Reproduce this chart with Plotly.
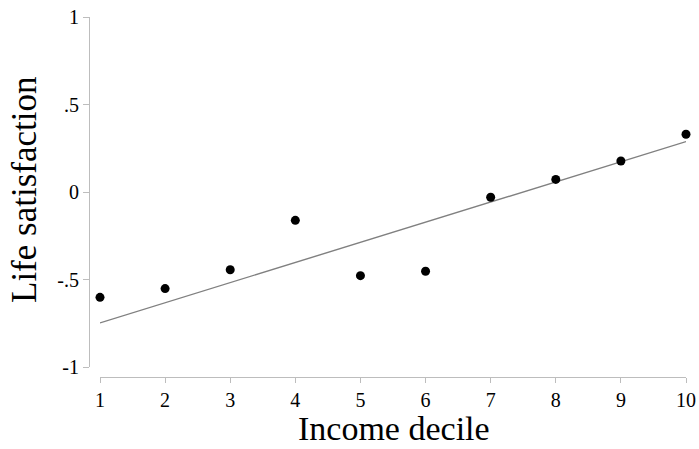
import plotly.graph_objects as go

deciles = [1, 2, 3, 4, 5, 6, 7, 8, 9, 10]
life_sat = [-0.602, -0.552, -0.444, -0.162, -0.478, -0.453, -0.030, 0.072, 0.177, 0.330]
fit_x = [1, 10]
fit_y = [-0.748, 0.288]
x_ticks = [1, 2, 3, 4, 5, 6, 7, 8, 9, 10]
y_ticks = [-1, -0.5, 0, 0.5, 1]
y_tick_labels = ["-1", "-.5", "0", ".5", "1"]

W, H = 699, 449
font_family = "Liberation Serif, Times New Roman, serif"

fig = go.Figure()
fig.add_trace(go.Scatter(x=fit_x, y=fit_y, mode="lines",
                         line=dict(color="#808080", width=1.4),
                         cliponaxis=False, hoverinfo="skip"))
fig.add_trace(go.Scatter(x=deciles, y=life_sat, mode="markers",
                         marker=dict(color="black", size=9),
                         cliponaxis=False))

fig.update_layout(
    width=W, height=H,
    margin=dict(l=0, r=0, t=0, b=0),
    paper_bgcolor="white", plot_bgcolor="white",
    showlegend=False,
    font=dict(family=font_family, color="black"),
    xaxis=dict(
        domain=[100 / W, 686 / W], range=[1, 10],
        anchor="free", position=(H - 377) / H,
        tickvals=x_ticks, ticktext=[str(v) for v in x_ticks],
        showline=True, linecolor="#bdbdbd", linewidth=1.2,
        ticks="outside", ticklen=5, tickcolor="#bdbdbd", tickwidth=1.2,
        showgrid=False, zeroline=False,
        tickfont=dict(size=20, family=font_family, color="black"),
        automargin=False,
    ),
    yaxis=dict(
        domain=[(H - 367) / H, (H - 17) / H], range=[-1, 1],
        anchor="free", position=89 / W,
        tickvals=y_ticks, ticktext=y_tick_labels,
        showline=True, linecolor="#bdbdbd", linewidth=1.2,
        ticks="outside", ticklen=6, tickcolor="#bdbdbd", tickwidth=1.2,
        showgrid=False, zeroline=False,
        tickfont=dict(size=20, family=font_family, color="black"),
        automargin=False,
    ),
    annotations=[
        dict(text="Income decile", xref="paper", yref="paper",
             x=394 / W, y=0, showarrow=False,
             xanchor="center", yanchor="bottom",
             font=dict(size=34, family=font_family, color="black")),
        dict(text="Life satisfaction", xref="paper", yref="paper",
             x=24 / W, y=(H - 190) / H, showarrow=False, textangle=-90,
             xanchor="center", yanchor="middle",
             font=dict(size=35, family=font_family, color="black")),
    ],
)

fig.write_html("out.html",
               config={"displayModeBar": False},
               post_script="document.body.style.margin='0';document.body.style.overflow='hidden';")
